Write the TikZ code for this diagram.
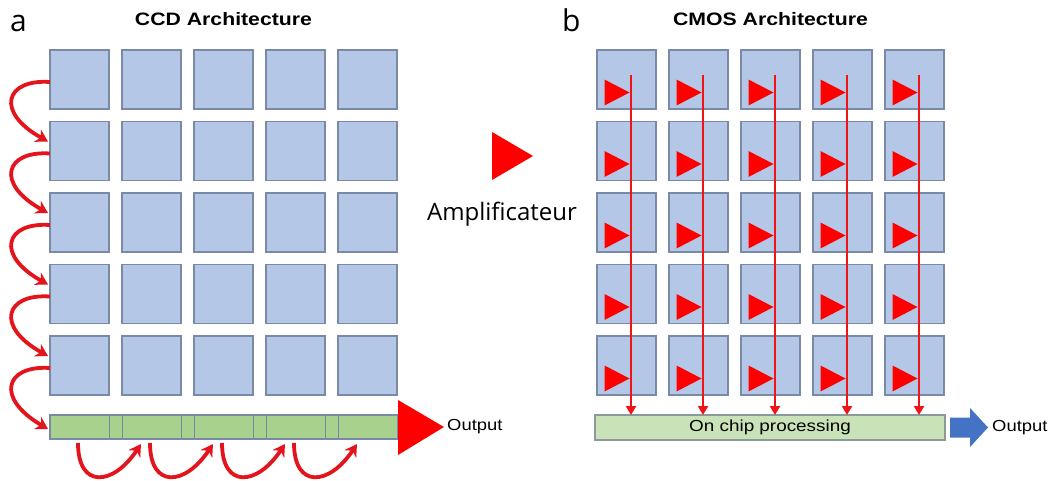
\documentclass[tikz,border=0pt]{standalone}
\usepackage{fontspec}
\setmainfont{Liberation Sans}
\newfontfamily\segoe{Open Sans}
\usetikzlibrary{arrows.meta,calc}
\definecolor{sqfill}{HTML}{B4C7E7}
\definecolor{sqdraw}{HTML}{7A8AA6}
\definecolor{ccdgreen}{HTML}{A9D18E}
\definecolor{cmosgreen}{HTML}{C9E2B8}
\definecolor{bardraw}{HTML}{8A9A9A}
\definecolor{arcred}{HTML}{E3141B}
\definecolor{ampred}{HTML}{FF0000}
\definecolor{linered}{HTML}{F01515}
\definecolor{outblue}{HTML}{4472C4}
\begin{document}
\begin{tikzpicture}[x=1pt,y=-1pt,
  sq/.style={draw=sqdraw, fill=sqfill, line width=1.3pt, minimum width=59pt, minimum height=59pt, inner sep=0pt, outer sep=0pt},
  ccdbarst/.style={draw=sqdraw, fill=ccdgreen, line width=1.3pt, minimum width=348pt, minimum height=24pt, inner sep=0pt, outer sep=0pt},
  cmosbarst/.style={draw=bardraw, fill=cmosgreen, line width=1.3pt, minimum width=350pt, minimum height=25pt, inner sep=0pt, outer sep=0pt, font=\fontsize{16}{18}\selectfont},
  divider/.style={draw=sqdraw, line width=1pt},
  arc/.style={draw=arcred, line width=3.8pt, -{Stealth[length=12pt,width=14pt]}},
  vline/.style={draw=linered, line width=2.8pt, -{Triangle[length=9pt,width=10pt]}},
  amptri/.style={fill=ampred},
  title/.style={font=\bfseries\fontsize{18}{20}\selectfont, inner sep=0pt},
  lbl/.style={font=\fontsize{16}{18}\selectfont, inner sep=0pt},
  panel/.style={font=\segoe\fontsize{30}{32}\selectfont, inner sep=0pt, anchor=base west},
]
\useasboundingbox (0,0) rectangle (1056,481);
\fill[white] (0,0) rectangle (1056,481);

% ---------- CCD ----------
\node[title] (ccdtitle) at (223.5,19) {\scalebox{1.18}[1]{CCD Architecture}};
\node[panel] (pa) at (10,32) {a};
\foreach \i in {1,...,5}
  \foreach \j in {1,...,5}
    \node[sq] (a-\i-\j) at ({50+72*(\j-1)+29.5},{50+71.5*(\i-1)+29.5}) {};
\node[ccdbarst] (ccdbar) at (224,427) {};
\foreach \j in {1,...,4}
  \draw[divider] (a-5-\j.east |- ccdbar.north) -- (a-5-\j.east |- ccdbar.south);
\foreach \j in {2,...,5}
  \draw[divider] (a-5-\j.west |- ccdbar.north) -- (a-5-\j.west |- ccdbar.south);
\foreach \i [evaluate=\i as \n using int(\i+1)] in {1,...,4}
  \draw[arc] ([yshift=-2.5pt]a-\i-1.west) .. controls +(-45,-3) and +(-53,-29.5) .. ([xshift=-2pt,yshift=9.5pt]a-\n-1.west);
\draw[arc] ([yshift=-2.5pt]a-5-1.west) .. controls +(-45,-3) and +(-53,-31) .. ([xshift=-2pt,yshift=-2pt]ccdbar.west);
\foreach \k in {0,...,3}
  \draw[arc] ($(ccdbar.south west)+({28+72*\k},4)$) .. controls +(0,46) and +(-28,42) .. ($(ccdbar.south west)+({91+72*\k},5)$);
\fill[amptri] ($(ccdbar.east)+(0,-27)$) -- ($(ccdbar.east)+(46,0)$) -- ($(ccdbar.east)+(0,28)$) -- cycle;
\node[lbl, anchor=west] (ccdout) at ($(ccdbar.east)+(49,0)$) {\scalebox{1.15}[1]{Output}};

% ---------- legend ----------
\fill[amptri] (492,132) -- (533,156) -- (492,180) -- cycle;
\node[font=\segoe\fontsize{24}{26}\selectfont, inner sep=0pt, anchor=base] (amp) at (502,220) {Amplificateur};

% ---------- CMOS ----------
\node[title] (cmostitle) at (770.5,19) {\scalebox{1.18}[1]{CMOS Architecture}};
\node[panel] (pb) at (562,32) {b};
\foreach \i in {1,...,5}
  \foreach \j in {1,...,5}
    \node[sq] (b-\i-\j) at ({597+72*(\j-1)+29.5},{50+71.5*(\i-1)+29.5}) {};
\node[cmosbarst] (cmosbar) at (770,427.5) {\scalebox{1.18}[1]{On chip processing}};
\foreach \i in {1,...,5}
  \foreach \j in {1,...,5}
    \fill[amptri] ($(b-\i-\j.center)+(-22,0)$) -- ($(b-\i-\j.center)+(3,13)$) -- ($(b-\i-\j.center)+(-22,26)$) -- cycle;
\foreach \j in {1,...,5}
  \draw[vline] ($(b-1-\j.north)+(4.5,25)$) -- ($(b-1-\j.north |- cmosbar.north)+(4.5,0)$);
\fill[outblue] ($(cmosbar.east)+(5,-10)$) -- ($(cmosbar.east)+(25,-10)$) -- ($(cmosbar.east)+(25,-19.5)$) -- ($(cmosbar.east)+(43,0)$) -- ($(cmosbar.east)+(25,19.5)$) -- ($(cmosbar.east)+(25,10)$) -- ($(cmosbar.east)+(5,10)$) -- cycle;
\node[lbl, anchor=west] (cmosout) at ($(cmosbar.east)+(47,0)$) {\scalebox{1.15}[1]{Output}};
\end{tikzpicture}
\end{document}
